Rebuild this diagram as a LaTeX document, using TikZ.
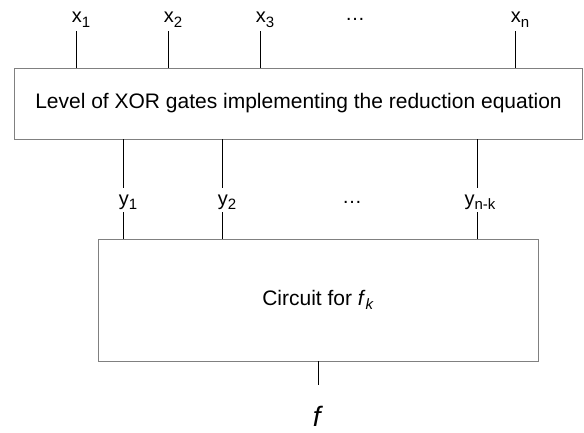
\documentclass[tikz,border=0pt]{standalone}
\usepackage{fontspec}
\setmainfont{Liberation Sans}
\usetikzlibrary{positioning}

\newcommand{\lowsub}[1]{\raisebox{-4.5pt}{\fontsize{15}{16}\selectfont #1}}

\tikzset{
  block/.style={draw=black!50, line width=0.9pt, inner sep=0pt},
  pin/.style={draw=black, line width=0.9pt},
  sig/.style={font=\fontsize{20}{22}\selectfont, inner sep=0pt, text height=13pt, text depth=5pt}
}

\begin{document}
\begin{tikzpicture}[x=1pt, y=1pt]
  \useasboundingbox (0,0) rectangle (584,432);

  % reduction level
  \node (lvl) [block, minimum width=568pt, minimum height=71pt] at (298.5,328.5)
    {\fontsize{21}{24}\selectfont Level of XOR gates implementing the reduction equation};
  \node (x1) [sig] at (81,413) {x\lowsub{1}};
  \node (x2) [sig] at (173,413) {x\lowsub{2}};
  \node (x3) [sig] at (265,413) {x\lowsub{3}};
  \node (xd) [sig] at (355,415) {\dots};
  \node (xn) [sig] at (520,413) {x\lowsub{n}};
  \foreach \v/\p in {x1/76,x2/168,x3/260,xn/515}
    \draw[pin] (\p,0 |- \v.south) ++(0,-3pt) -- (\p,0 |- lvl.north);

  % reduced function
  \node (ckt) [block, minimum width=440pt, minimum height=122pt] at (318,132)
    {\fontsize{21}{24}\selectfont Circuit for \textit{f}\lowsub{\textit{k}}};
  \node (y1) [sig] at (128,231) {y\lowsub{1}};
  \node (y2) [sig] at (227,231) {y\lowsub{2}};
  \node (yd) [sig] at (352,233) {\dots};
  \node (yk) [sig] at (480,231) {y\lowsub{n-k}};
  \foreach \v/\p in {y1/123,y2/222,yk/477} {
    \draw[pin] (\p,0 |- lvl.south) -- ([yshift=4pt]\p,0 |- \v.north);
    \draw[pin] ([yshift=-2pt]\p,0 |- \v.south) -- (\p,0 |- ckt.north);
  }

  \node (f) [font=\fontsize{28}{30}\selectfont, inner sep=0pt] at (318,16) {\textit{f}};
  \draw[pin] (ckt.south) -- ++(0,-24pt);
\end{tikzpicture}
\end{document}
